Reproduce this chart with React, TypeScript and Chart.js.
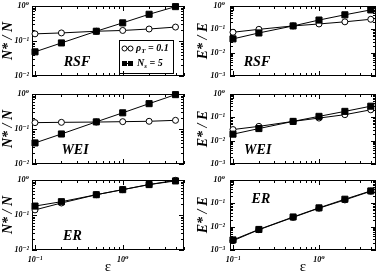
import React, { useEffect, useRef } from 'react';
import { Chart, registerables } from 'chart.js';

Chart.register(...registerables);

// ---------------- data ----------------
const epsilon = [0.1, 0.2, 0.5, 1, 2, 4];

const rsfNRho = [0.16, 0.17, 0.19, 0.2, 0.22, 0.25];
const rsfNNs = [0.049, 0.088, 0.19, 0.33, 0.58, 0.96];
const rsfERho = [0.075, 0.1, 0.14, 0.17, 0.21, 0.27];
const rsfENs = [0.039, 0.07, 0.14, 0.25, 0.42, 0.68];
const weiNRho = [0.152, 0.155, 0.158, 0.162, 0.166, 0.177];
const weiNNs = [0.04, 0.072, 0.16, 0.29, 0.53, 0.96];
const weiERho = [0.03, 0.041, 0.067, 0.093, 0.13, 0.21];
const weiENs = [0.019, 0.033, 0.067, 0.11, 0.18, 0.3];
const erNRho = [0.14, 0.22, 0.38, 0.53, 0.74, 0.98];
const erNNs = [0.18, 0.24, 0.38, 0.53, 0.74, 0.94];
const erERho = [0.0025, 0.0074, 0.025, 0.062, 0.14, 0.33];
const erENs = [0.0027, 0.0076, 0.026, 0.064, 0.15, 0.34];

const xTickValues = [0.1, 1];
const xTickLabels = ['10⁻¹', '10⁰'];
const yTickValues = [0.001, 0.01, 0.1, 1];
const yTickLabels = ['10⁻³', '10⁻²', '10⁻¹', '10⁰'];
const legendRho = ['ρ', 'T', ' = 0.1'];
const legendNs = ['N', 's', ' = 5'];
const xTitle = 'ε';

// ---------------- layout ----------------
const SERIF = '"Liberation Serif", "Times New Roman", "DejaVu Serif", serif';
const PAGE_W = 382;
const PAGE_H = 276;
const OFF = 20;

const COLS = [
  { L: 32, R: 184, YW: 32, tickPad: 3, xMin: 0.0924, xMax: 5.0 },
  { L: 230, R: 376, YW: 35, tickPad: 5, xMin: 0.0923, xMax: 4.6 },
];
const ROWS = [
  { T: 6, B: 76 },
  { T: 94, B: 164 },
  { T: 180, B: 250 },
];
const XH = 26;

type PanelSpec = {
  rho: number[];
  ns: number[];
  yMin: number;
  yTitle: string;
  name: string;
  col: number;
  row: number;
  nameFx: number;
  nameFy: number;
  legend?: boolean;
};

const panels: PanelSpec[] = [
  { rho: rsfNRho, ns: rsfNNs, yMin: 0.01, yTitle: 'N* / N', name: 'RSF', col: 0, row: 0, nameFx: 0.296, nameFy: 0.81, legend: true },
  { rho: rsfERho, ns: rsfENs, yMin: 0.001, yTitle: 'E* / E', name: 'RSF', col: 1, row: 0, nameFx: 0.185, nameFy: 0.8 },
  { rho: weiNRho, ns: weiNNs, yMin: 0.01, yTitle: 'N* / N', name: 'WEI', col: 0, row: 1, nameFx: 0.283, nameFy: 0.81 },
  { rho: weiERho, ns: weiENs, yMin: 0.001, yTitle: 'E* / E', name: 'WEI', col: 1, row: 1, nameFx: 0.19, nameFy: 0.8 },
  { rho: erNRho, ns: erNNs, yMin: 0.01, yTitle: 'N* / N', name: 'ER', col: 0, row: 2, nameFx: 0.266, nameFy: 0.8 },
  { rho: erERho, ns: erENs, yMin: 0.001, yTitle: 'E* / E', name: 'ER', col: 1, row: 2, nameFx: 0.212, nameFy: 0.27 },
];

// ---------------- plugins ----------------
function logTicks(min: number, max: number, cb: (v: number, major: boolean) => void) {
  const d0 = Math.floor(Math.log10(min));
  const d1 = Math.ceil(Math.log10(max));
  for (let d = d0; d <= d1; d++) {
    for (let m = 1; m <= 9; m++) {
      const v = m * Math.pow(10, d);
      if (v < min * 0.9999 || v > max * 1.0001) continue;
      cb(v, m === 1);
    }
  }
}

const framePlugin = {
  id: 'frame',
  beforeDatasetsDraw(chart: any) {
    const { ctx, chartArea: a, scales } = chart;
    const xs = scales.x;
    const ys = scales.y;
    ctx.save();
    ctx.strokeStyle = '#000';
    ctx.lineWidth = 1;
    ctx.strokeRect(a.left + 0.5, a.top + 0.5, a.right - a.left - 1, a.bottom - a.top - 1);
    ctx.beginPath();
    logTicks(xs.min, xs.max, (v, major) => {
      const px = Math.round(xs.getPixelForValue(v)) + 0.5;
      const len = major ? 5 : 3;
      ctx.moveTo(px, a.bottom);
      ctx.lineTo(px, a.bottom - len);
      ctx.moveTo(px, a.top);
      ctx.lineTo(px, a.top + len);
    });
    logTicks(ys.min, ys.max, (v, major) => {
      const py = Math.round(ys.getPixelForValue(v)) + 0.5;
      const len = major ? 5 : 3;
      ctx.moveTo(a.left, py);
      ctx.lineTo(a.left + len, py);
      ctx.moveTo(a.right, py);
      ctx.lineTo(a.right - len, py);
    });
    ctx.stroke();
    ctx.restore();
  },
};

function drawSubText(ctx: any, x: number, y: number, parts: string[], size: number) {
  const f = `italic bold ${size}px ${SERIF}`;
  const fs = `italic bold ${Math.round(size * 0.7)}px ${SERIF}`;
  ctx.textBaseline = 'middle';
  ctx.textAlign = 'left';
  ctx.font = f;
  ctx.fillText(parts[0], x, y);
  x += ctx.measureText(parts[0]).width;
  ctx.font = fs;
  ctx.fillText(parts[1], x, y + 3);
  x += ctx.measureText(parts[1]).width;
  ctx.font = f;
  ctx.fillText(parts[2], x, y);
}

const textPlugin = {
  id: 'panelText',
  afterDatasetsDraw(chart: any, _args: any, opts: any) {
    const { ctx, chartArea: a } = chart;
    ctx.save();
    ctx.fillStyle = '#000';
    ctx.font = `italic bold 14px ${SERIF}`;
    ctx.textAlign = 'center';
    ctx.textBaseline = 'middle';
    ctx.fillText(opts.name, a.left + opts.fx * (a.right - a.left), a.top + opts.fy * (a.bottom - a.top));
    if (opts.legend) {
      const bx = a.left + 87;
      const by = a.top + 34;
      const bw = 54;
      const bh = 33;
      ctx.lineWidth = 1;
      ctx.strokeStyle = '#000';
      ctx.strokeRect(Math.round(bx) + 0.5, Math.round(by) + 0.5, bw, bh);
      const rows = [by + 8.5, by + 23.5];
      ctx.beginPath();
      ctx.moveTo(bx + 3, rows[0]);
      ctx.lineTo(bx + 14, rows[0]);
      ctx.stroke();
      [bx + 5.5, bx + 11.5].forEach((cx) => {
        ctx.beginPath();
        ctx.arc(cx, rows[0], 2.5, 0, Math.PI * 2);
        ctx.fillStyle = '#fff';
        ctx.fill();
        ctx.stroke();
      });
      ctx.beginPath();
      ctx.moveTo(bx + 3, rows[1]);
      ctx.lineTo(bx + 14, rows[1]);
      ctx.stroke();
      ctx.fillStyle = '#000';
      [bx + 5.5, bx + 11.5].forEach((cx) => {
        ctx.fillRect(cx - 2.5, rows[1] - 2.5, 5, 5);
      });
      drawSubText(ctx, bx + 17, rows[0], legendRho, 10);
      drawSubText(ctx, bx + 18, rows[1], legendNs, 10);
    }
    ctx.restore();
  },
};

// ---------------- component ----------------
function Panel({ spec }: { spec: PanelSpec }) {
  const ref = useRef<HTMLCanvasElement | null>(null);
  useEffect(() => {
    const canvas = ref.current;
    if (!canvas) return;
    const col = COLS[spec.col];
    const row = ROWS[spec.row];
    const showX = spec.row === 2;
    const tickFont = { family: SERIF, size: 8, style: 'italic' as const, weight: 'bold' as const };
    const chart = new Chart(canvas, {
      type: 'line',
      data: {
        datasets: [
          {
            data: epsilon.map((x, i) => ({ x, y: spec.ns[i] })),
            borderColor: '#000',
            borderWidth: 1,
            pointStyle: 'rect',
            pointRadius: 4.3,
            pointBackgroundColor: '#000',
            pointBorderColor: '#000',
            pointBorderWidth: 1,
            clip: false as any,
            tension: 0,
          },
          {
            data: epsilon.map((x, i) => ({ x, y: spec.rho[i] })),
            borderColor: '#000',
            borderWidth: 1,
            pointStyle: 'circle',
            pointRadius: 3,
            pointBackgroundColor: '#fff',
            pointBorderColor: '#000',
            pointBorderWidth: 1,
            clip: false as any,
            tension: 0,
          },
        ],
      },
      options: {
        responsive: false,
        animation: false,
        devicePixelRatio: 1,
        events: [],
        layout: {
          padding: {
            left: col.L + OFF - col.YW,
            top: row.T + OFF,
            right: PAGE_W - col.R,
            bottom: PAGE_H - row.B - (showX ? XH : 0),
          },
        },
        scales: {
          x: {
            type: 'logarithmic',
            min: col.xMin,
            max: col.xMax,
            display: showX,
            afterBuildTicks: (s: any) => {
              s.ticks = xTickValues.map((v) => ({ value: v }));
            },
            afterFit: (s: any) => {
              s.height = showX ? XH : 0;
            },
            grid: { display: false, drawTicks: false },
            border: { display: false },
            ticks: {
              autoSkip: false,
              maxRotation: 0,
              padding: 5,
              color: '#000',
              font: tickFont,
              callback: (v: any) => {
                const i = xTickValues.findIndex((t) => Math.abs(t - v) / t < 1e-6);
                return i >= 0 ? xTickLabels[i] : '';
              },
            },
            title: {
              display: true,
              text: xTitle,
              color: '#000',
              padding: 0,
              font: { family: SERIF, size: 15 },
            },
          },
          y: {
            type: 'logarithmic',
            min: spec.yMin,
            max: 1,
            afterBuildTicks: (s: any) => {
              s.ticks = yTickValues.filter((v) => v >= spec.yMin * 0.999).map((v) => ({ value: v }));
            },
            afterFit: (s: any) => {
              s.width = col.YW;
            },
            grid: { display: false, drawTicks: false },
            border: { display: false },
            ticks: {
              autoSkip: false,
              padding: col.tickPad,
              color: '#000',
              font: tickFont,
              callback: (v: any) => {
                const i = yTickValues.findIndex((t) => Math.abs(t - v) / t < 1e-6);
                return i >= 0 ? yTickLabels[i] : '';
              },
            },
            title: {
              display: true,
              text: spec.yTitle,
              color: '#000',
              padding: 0,
              font: { family: SERIF, size: 14, style: 'italic', weight: 'bold' },
            },
          },
        },
        plugins: {
          legend: { display: false },
          tooltip: { enabled: false },
          panelText: { name: spec.name, fx: spec.nameFx, fy: spec.nameFy, legend: !!spec.legend },
        } as any,
      },
      plugins: [framePlugin, textPlugin],
    } as any);
    return () => chart.destroy();
  }, [spec]);
  return (
    <canvas
      ref={ref}
      width={PAGE_W + OFF}
      height={PAGE_H + OFF}
      style={{
        position: 'absolute',
        left: -OFF,
        top: -OFF,
        width: PAGE_W + OFF,
        height: PAGE_H + OFF,
      }}
    />
  );
}

export default function App() {
  return (
    <div
      style={{
        position: 'absolute',
        left: 0,
        top: 0,
        width: PAGE_W,
        height: PAGE_H,
        overflow: 'hidden',
        background: '#fff',
      }}
    >
      {panels.map((p, i) => (
        <Panel key={i} spec={p} />
      ))}
    </div>
  );
}
